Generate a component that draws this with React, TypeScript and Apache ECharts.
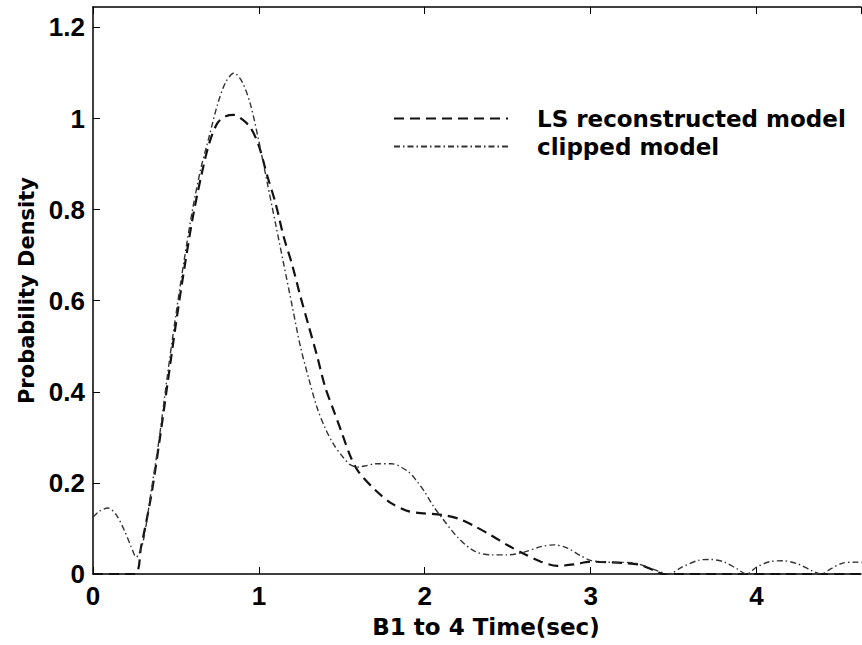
import React, { useEffect, useRef } from "react";
import * as echarts from "echarts";

const lsX = [0, 0.25, 0.29, 0.35, 0.40, 0.45, 0.50, 0.55, 0.60, 0.65, 0.70, 0.75, 0.80, 0.85, 0.90, 0.95, 1.00, 1.05, 1.10, 1.15, 1.20, 1.25, 1.30, 1.35, 1.40, 1.45, 1.50, 1.55, 1.60, 1.70, 1.80, 1.90, 2.00, 2.10, 2.20, 2.30, 2.40, 2.50, 2.60, 2.70, 2.80, 2.90, 3.00, 3.10, 3.20, 3.30, 3.38, 3.44, 4.65];
const lsY = [0, 0, 0.06, 0.17, 0.29, 0.42, 0.55, 0.67, 0.78, 0.87, 0.945, 0.99, 1.005, 1.008, 0.998, 0.98, 0.94, 0.875, 0.815, 0.74, 0.68, 0.61, 0.545, 0.48, 0.41, 0.36, 0.31, 0.26, 0.225, 0.185, 0.155, 0.138, 0.133, 0.13, 0.122, 0.105, 0.085, 0.063, 0.044, 0.027, 0.018, 0.021, 0.027, 0.026, 0.024, 0.02, 0.008, 0, 0];

const clipX = [0, 0.04, 0.09, 0.14, 0.19, 0.23, 0.26, 0.30, 0.35, 0.40, 0.45, 0.50, 0.55, 0.60, 0.65, 0.70, 0.75, 0.80, 0.85, 0.90, 0.95, 1.00, 1.05, 1.10, 1.15, 1.20, 1.25, 1.30, 1.35, 1.40, 1.45, 1.50, 1.55, 1.60, 1.65, 1.70, 1.80, 1.90, 1.95, 2.00, 2.05, 2.10, 2.20, 2.30, 2.40, 2.50, 2.60, 2.70, 2.78, 2.86, 2.94, 3.00, 3.10, 3.25, 3.36, 3.47, 3.55, 3.65, 3.72, 3.80, 3.88, 3.94, 4.00, 4.08, 4.16, 4.25, 4.33, 4.39, 4.45, 4.52, 4.60, 4.65];
const clipY = [0.125, 0.138, 0.145, 0.13, 0.095, 0.06, 0.037, 0.068, 0.18, 0.30, 0.44, 0.57, 0.69, 0.80, 0.89, 0.96, 1.03, 1.08, 1.10, 1.08, 1.03, 0.95, 0.86, 0.77, 0.68, 0.59, 0.50, 0.43, 0.366, 0.32, 0.285, 0.26, 0.24, 0.235, 0.238, 0.242, 0.242, 0.225, 0.205, 0.18, 0.15, 0.125, 0.08, 0.05, 0.042, 0.042, 0.048, 0.06, 0.064, 0.057, 0.04, 0.03, 0.026, 0.025, 0.013, 0, 0.015, 0.03, 0.032, 0.027, 0.012, 0, 0.015, 0.027, 0.029, 0.022, 0.008, 0, 0.012, 0.024, 0.026, 0.025];

const seriesNames = ["LS reconstructed model", "clipped model"];
const xTitle = "B1 to 4 Time(sec)";
const yTitle = "Probability Density";

const FONT = "DejaVu Sans";

export default function App() {
  const ref = useRef<HTMLDivElement>(null);
  useEffect(() => {
    if (!ref.current) return;
    const chart = echarts.init(ref.current, null, { renderer: "svg" });
    const pair = (xs: number[], ys: number[]) => xs.map((x, i) => [x, ys[i]]);
    const tickLabel = {
      color: "#000",
      fontFamily: "Liberation Sans",
      fontWeight: "bold" as const,
      fontSize: 26,
      showMaxLabel: false,
    };
    chart.setOption({
      animation: false,
      backgroundColor: "#fff",
      grid: { left: 93, right: 1, top: 7, bottom: 71, containLabel: false },
      legend: {
        orient: "vertical",
        left: 388,
        top: 102,
        itemWidth: 114,
        itemHeight: 20,
        itemGap: 5,
        itemStyle: { opacity: 0 },
        textStyle: {
          color: "#000",
          fontFamily: FONT,
          fontWeight: "bold",
          fontSize: 23,
          padding: [0, 0, 0, 24],
        },
        data: seriesNames,
      },
      xAxis: [
        {
          type: "value",
          min: 0,
          max: 4.63,
          interval: 1,
          position: "bottom",
          axisLine: { show: true, onZero: false, lineStyle: { color: "#000", width: 1.5 } },
          axisTick: { show: true, inside: true, length: 7, lineStyle: { color: "#000" } },
          splitLine: { show: false },
          axisLabel: { ...tickLabel, margin: 9 },
          name: xTitle,
          nameLocation: "middle",
          nameGap: 41,
          nameTextStyle: {
            color: "#000",
            fontFamily: FONT,
            fontWeight: "bold",
            fontSize: 23,
            padding: [0, 0, 0, 18],
          },
        },
        {
          type: "value",
          min: 0,
          max: 4.63,
          interval: 1,
          position: "top",
          axisLine: { show: true, onZero: false, lineStyle: { color: "#000", width: 1.5 } },
          axisTick: { show: true, inside: true, length: 7, lineStyle: { color: "#000" } },
          splitLine: { show: false },
          axisLabel: { show: false },
        },
      ],
      yAxis: {
        type: "value",
        min: 0,
        max: 1.245,
        interval: 0.2,
        axisLine: { show: true, onZero: false, lineStyle: { color: "#000", width: 1.5 } },
        axisTick: { show: true, inside: true, length: 7, lineStyle: { color: "#000" } },
        splitLine: { show: false },
        axisLabel: { ...tickLabel, margin: 8 },
        name: yTitle,
        nameLocation: "middle",
        nameGap: 46,
        nameTextStyle: {
          color: "#000",
          fontFamily: FONT,
          fontWeight: "bold",
          fontSize: 21,
        },
      },
      series: [
        {
          name: seriesNames[0],
          type: "line",
          data: pair(lsX, lsY),
          smooth: 0.3,
          symbol: "none",
          showSymbol: false,
          lineStyle: { color: "#111", width: 2.2, type: [10, 6] },
          itemStyle: { color: "#111" },
        },
        {
          name: seriesNames[1],
          type: "line",
          data: pair(clipX, clipY),
          smooth: 0.3,
          symbol: "none",
          showSymbol: false,
          lineStyle: { color: "#333", width: 1.4, type: [6, 3, 1.5, 3] },
          itemStyle: { color: "#333" },
        },
      ],
    });
    return () => chart.dispose();
  }, []);
  return <div ref={ref} style={{ width: 862, height: 645, position: "absolute", left: 0, top: 0 }} />;
}
